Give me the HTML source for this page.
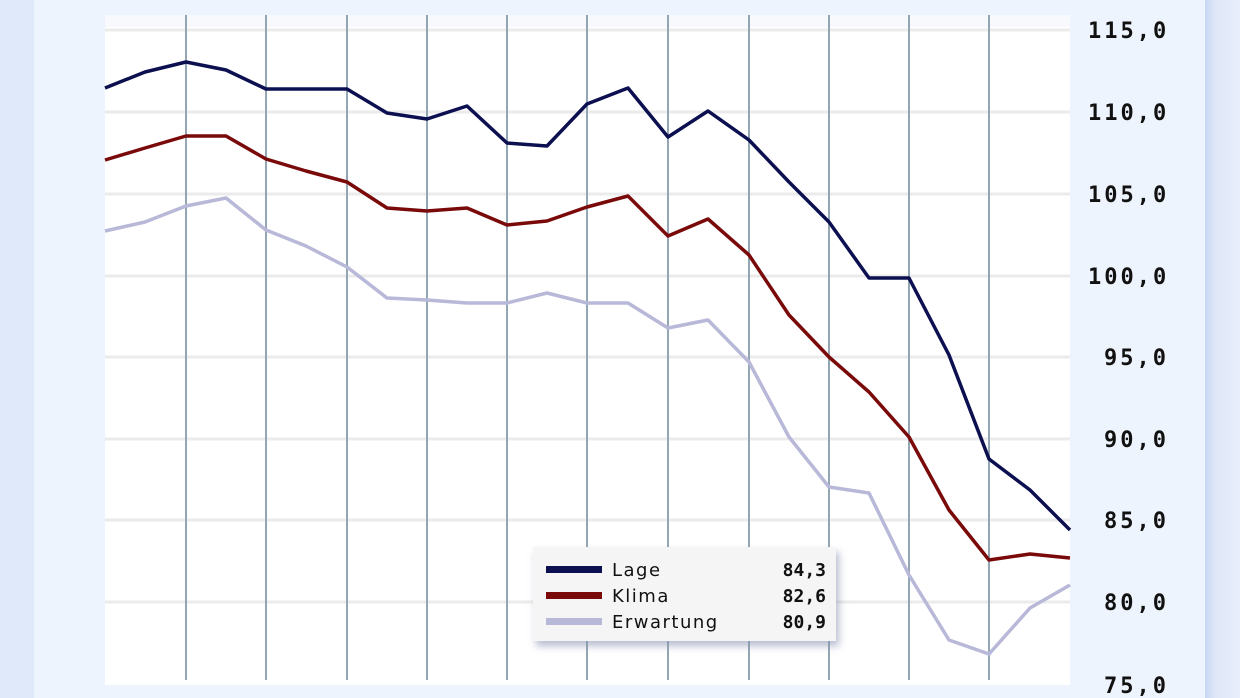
<!DOCTYPE html>
<html><head><meta charset="utf-8"><style>
html,body{margin:0;padding:0;width:1240px;height:698px;overflow:hidden;background:#eef4fd}
</style></head><body>
<svg width="1240" height="698" xmlns="http://www.w3.org/2000/svg" style="display:block">
<defs>
<linearGradient id="rs" x1="0" x2="1"><stop offset="0" stop-color="#c9d6f2"/><stop offset="0.3" stop-color="#dfe7f8"/><stop offset="1" stop-color="#e8eefa"/></linearGradient>
<filter id="sh" x="-10%" y="-10%" width="130%" height="140%"><feDropShadow dx="3" dy="5" stdDeviation="4" flood-color="#8890b0" flood-opacity="0.6"/></filter>
</defs>
<rect x="0" y="0" width="34" height="698" fill="#dfe9fa"/>
<rect x="1205" y="0" width="35" height="698" fill="url(#rs)"/>
<rect x="105" y="15" width="965" height="670" fill="#fff"/>
<rect x="105" y="15" width="965" height="12" fill="#f7f9fc"/>
<g stroke="#ebebeb" stroke-width="3">
<line x1="105" x2="1070" y1="30" y2="30"/><line x1="105" x2="1070" y1="112" y2="112"/>
<line x1="105" x2="1070" y1="194" y2="194"/><line x1="105" x2="1070" y1="276" y2="276"/>
<line x1="105" x2="1070" y1="357" y2="357"/><line x1="105" x2="1070" y1="439" y2="439"/>
<line x1="105" x2="1070" y1="520" y2="520"/><line x1="105" x2="1070" y1="602" y2="602"/>
</g>
<g stroke="#93a6b4" stroke-width="2">
<line x1="186" x2="186" y1="15" y2="680"/><line x1="266" x2="266" y1="15" y2="680"/>
<line x1="347" x2="347" y1="15" y2="680"/><line x1="427" x2="427" y1="15" y2="680"/>
<line x1="507" x2="507" y1="15" y2="680"/><line x1="587" x2="587" y1="15" y2="680"/>
<line x1="668" x2="668" y1="15" y2="680"/><line x1="749" x2="749" y1="15" y2="680"/>
<line x1="829" x2="829" y1="15" y2="680"/><line x1="909" x2="909" y1="15" y2="680"/>
<line x1="989" x2="989" y1="15" y2="680"/>
</g>
<g fill="none" stroke-width="3.5" stroke-linejoin="round">
<polyline stroke="#b8b8d8" points="105,231 145,222 186,206 226,198 266,230 306,246 347,267 387,298 427,300 467,303 507,303 547,293 587,303 628,303 668,328 708,320 749,362 789,437 829,487 869,493 909,575 949,640 989,654 1030,608 1070,585"/>
<polyline stroke="#7a0a0a" points="105,160 145,148 186,136 226,136 266,159 306,171 347,182 387,208 427,211 467,208 507,225 547,221 587,207 628,196 668,236 708,219 749,255 789,315 829,357 869,392 909,437 949,510 989,560 1030,554 1070,558"/>
<polyline stroke="#0c1050" points="105,88 145,72 186,62 226,70 266,89 306,89 347,89 387,113 427,119 467,106 507,143 547,146 587,104 628,88 668,137 708,111 749,140 789,182 829,222 869,278 909,278 949,355 989,459 1030,490 1070,530"/>
</g>
<g font-family="'DejaVu Sans Mono','Liberation Mono',monospace" font-weight="bold" font-size="22" fill="#111" letter-spacing="3">
<text x="1088" y="38">115,0</text><text x="1088" y="120">110,0</text>
<text x="1088" y="202">105,0</text><text x="1088" y="284">100,0</text>
<text x="1104" y="365">95,0</text><text x="1104" y="447">90,0</text>
<text x="1104" y="528">85,0</text><text x="1104" y="610">80,0</text>
<text x="1104" y="693">75,0</text>
</g>
<rect x="533" y="547" width="303" height="94" fill="#f5f5f5" filter="url(#sh)"/>
<rect x="546" y="566" width="56" height="7" fill="#0c1050"/>
<rect x="546" y="592" width="56" height="7" fill="#7a0a0a"/>
<rect x="546" y="618" width="56" height="7" fill="#b8b8d8"/>
<g font-family="'DejaVu Sans','Liberation Sans',sans-serif" font-size="18" fill="#111" letter-spacing="1.5">
<text x="612" y="576">Lage</text><text x="612" y="602">Klima</text><text x="612" y="628">Erwartung</text>
</g>
<g font-family="'DejaVu Sans Mono','Liberation Mono',monospace" font-weight="bold" font-size="18" fill="#111" text-anchor="end">
<text x="826" y="576">84,3</text><text x="826" y="602">82,6</text><text x="826" y="628">80,9</text>
</g>
</svg>
</body></html>
